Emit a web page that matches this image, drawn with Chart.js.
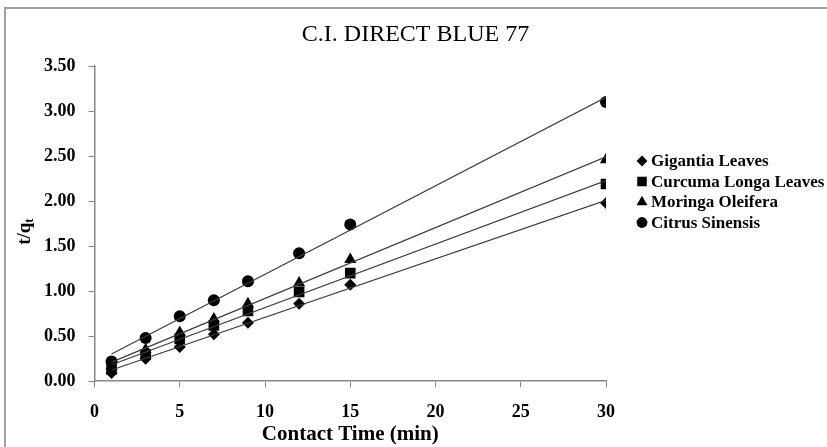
<!DOCTYPE html>
<html>
<head>
<meta charset="utf-8">
<script src="https://cdn.jsdelivr.net/npm/chart.js@4"></script>
<style>
  html, body { margin: 0; padding: 0; background: #fff; }
  #wrap { width: 827px; height: 447px; position: relative; }
</style>
</head>
<body>
<div id="wrap"><canvas id="myChart" width="827" height="447"></canvas></div>
<script>
// contact time (min)
let contactTime = [1, 3, 5, 7, 9, 12, 15, 30];

// t/qt for each adsorbent
let gigantiaLeaves = [0.09, 0.25, 0.38, 0.52, 0.65, 0.86, 1.07, 1.98];
let curcumaLongaLeaves = [0.13, 0.30, 0.47, 0.62, 0.78, 0.99, 1.20, 2.19];
let moringaOleifera = [0.17, 0.35, 0.54, 0.69, 0.86, 1.09, 1.35, 2.46];
let citrusSinensis = [0.22, 0.48, 0.72, 0.90, 1.11, 1.42, 1.74, 3.10];

let seriesNames = ["Gigantia Leaves", "Curcuma Longa Leaves", "Moringa Oleifera", "Citrus Sinensis"];
let seriesValues = [gigantiaLeaves, curcumaLongaLeaves, moringaOleifera, citrusSinensis];
let seriesMarkers = ["rectRot", "rect", "triangle", "circle"];
let markerSizes = [6, 7.5, 7, 6];

let yTicks = [0, 0.5, 1, 1.5, 2, 2.5, 3, 3.5];
let xTicks = [0, 5, 10, 15, 20, 25, 30];

const serif = "'Liberation Serif', 'Times New Roman', serif";

// least squares line through one series
function linearFit(xs, ys) {
  let n = xs.length;
  let mx = xs.reduce((a, b) => a + b, 0) / n;
  let my = ys.reduce((a, b) => a + b, 0) / n;
  let sxy = 0, sxx = 0;
  for (let i = 0; i < n; i++) {
    sxy += (xs[i] - mx) * (ys[i] - my);
    sxx += (xs[i] - mx) * (xs[i] - mx);
  }
  let slope = sxy / sxx;
  return { slope: slope, intercept: my - slope * mx };
}

let datasets = [];

// trend lines first so the markers sit on top
seriesValues.forEach((values, i) => {
  let fit = linearFit(contactTime, values);
  let x0 = contactTime[0];
  let x1 = contactTime[contactTime.length - 1];
  datasets.push({
    label: seriesNames[i] + " trend",
    data: [
      { x: x0, y: fit.intercept + fit.slope * x0 },
      { x: x1, y: fit.intercept + fit.slope * x1 },
    ],
    showLine: true,
    borderColor: "#3c3c3c",
    borderWidth: 1.2,
    pointRadius: 0,
  });
});

seriesValues.forEach((values, i) => {
  datasets.push({
    label: seriesNames[i],
    data: contactTime.map((t, k) => ({ x: t, y: values[k] })),
    showLine: false,
    pointStyle: seriesMarkers[i],
    pointRadius: markerSizes[i],
    pointBackgroundColor: "#000",
    pointBorderColor: "#000",
    pointBorderWidth: 0,
  });
});

// --- frame, title, y title and legend --- //
const decorations = {
  id: "decorations",
  afterDraw(chart) {
    const ctx = chart.ctx;
    const area = chart.chartArea;
    ctx.save();

    // outer frame
    ctx.strokeStyle = "#a0a0a0";
    ctx.lineWidth = 2;
    ctx.strokeRect(5, 8, 900, 900);

    // title
    ctx.fillStyle = "#000";
    ctx.font = "24px " + serif;
    ctx.textAlign = "center";
    ctx.textBaseline = "middle";
    ctx.fillText("C.I. DIRECT BLUE 77", chart.width / 2 + 2, 35);

    // y axis title t/qt
    ctx.save();
    ctx.translate(25, (area.top + area.bottom) / 2 + 8);
    ctx.rotate(-Math.PI / 2);
    ctx.textAlign = "left";
    ctx.textBaseline = "middle";
    ctx.font = "bold 19px " + serif;
    let main = "t/q";
    let w = ctx.measureText(main).width;
    ctx.font = "bold 13px " + serif;
    let ws = ctx.measureText("t").width;
    let start = -(w + ws) / 2;
    ctx.font = "bold 19px " + serif;
    ctx.fillText(main, start, 0);
    ctx.font = "bold 13px " + serif;
    ctx.fillText("t", start + w, 5);
    ctx.restore();

    // legend
    ctx.font = "bold 17px " + serif;
    ctx.textAlign = "left";
    ctx.textBaseline = "middle";
    seriesNames.forEach((name, i) => {
      let y = 161 + i * 20.5;
      ctx.fillStyle = "#000";
      Chart.helpers.drawPoint(ctx, {
        pointStyle: seriesMarkers[i],
        radius: markerSizes[i] * 0.9,
        rotation: 0,
        borderWidth: 0,
      }, 642, y);
      ctx.fillText(name, 651, y + 1);
    });

    ctx.restore();
  },
};

const ctx = document.getElementById("myChart");
let myChart = new Chart(ctx, {
  type: "scatter",
  data: { datasets: datasets },
  options: {
    responsive: false,
    animation: false,
    layout: {
      padding: { left: 31, right: 221, top: 66, bottom: 0 },
    },
    scales: {
      x: {
        type: "linear",
        min: 0,
        max: 30,
        afterBuildTicks: (axis) => {
          axis.ticks = xTicks.map((v) => ({ value: v }));
        },
        grid: {
          drawOnChartArea: false,
          drawTicks: true,
          tickLength: 6,
          color: "#888",
        },
        border: { color: "#888", width: 1.5 },
        ticks: {
          color: "#000",
          padding: 14,
          maxRotation: 0,
          font: { family: serif, size: 18, weight: "bold" },
        },
        title: {
          display: true,
          text: "Contact Time (min)",
          color: "#000",
          padding: { top: -15, bottom: 0 },
          font: { family: serif, size: 21, weight: "bold" },
        },
      },
      y: {
        type: "linear",
        min: 0,
        max: 3.5,
        afterBuildTicks: (axis) => {
          axis.ticks = yTicks.map((v) => ({ value: v }));
        },
        grid: {
          drawOnChartArea: false,
          drawTicks: true,
          tickLength: 6,
          color: "#888",
        },
        border: { color: "#888", width: 1.5 },
        ticks: {
          color: "#000",
          padding: 13,
          font: { family: serif, size: 18, weight: "bold" },
          callback: (v) => v.toFixed(2),
        },
      },
    },
    plugins: {
      legend: { display: false },
      title: { display: false },
      tooltip: { enabled: false },
    },
  },
  plugins: [decorations],
});
</script>
</body>
</html>
